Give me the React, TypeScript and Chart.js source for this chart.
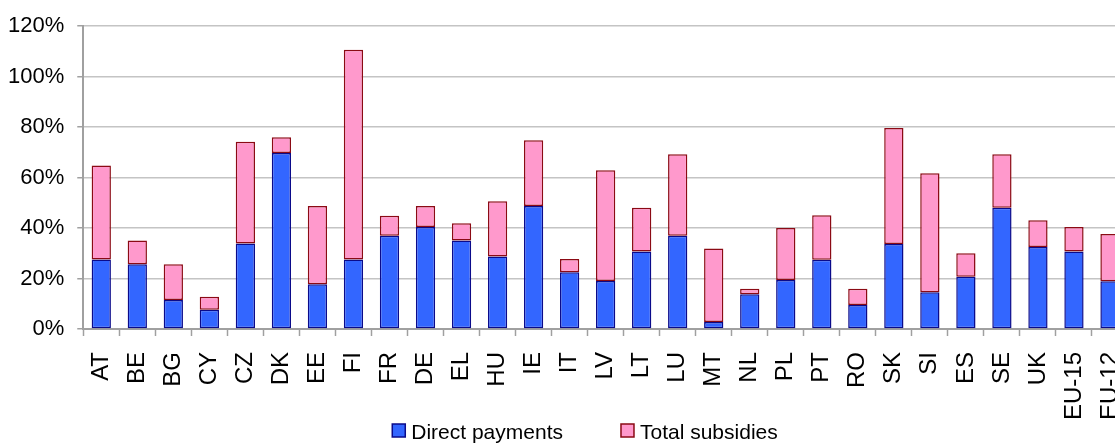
import React, { useEffect, useRef } from 'react';
import { Chart, registerables } from 'chart.js';

Chart.register(...registerables);

const categories = ['AT', 'BE', 'BG', 'CY', 'CZ', 'DK', 'EE', 'FI', 'FR', 'DE', 'EL', 'HU', 'IE', 'IT', 'LV', 'LT', 'LU', 'MT', 'NL', 'PL', 'PT', 'RO', 'SK', 'SI', 'ES', 'SE', 'UK', 'EU-15', 'EU-12'];
const directPayments = [27.5, 25.7, 11.5, 7.6, 33.9, 69.7, 17.7, 27.5, 36.9, 40.4, 35.1, 28.7, 48.7, 22.5, 19.0, 30.7, 36.9, 2.8, 13.8, 19.4, 27.4, 9.5, 33.7, 14.6, 20.7, 48.0, 32.5, 30.7, 18.9];
const totalSubsidies = [64.8, 35.1, 25.7, 12.8, 74.2, 76.0, 48.7, 110.7, 44.9, 48.7, 41.9, 50.6, 74.8, 27.7, 62.9, 48.0, 69.2, 31.9, 15.9, 40.0, 45.1, 15.9, 79.7, 61.7, 30.0, 69.2, 43.1, 40.4, 37.6];
const yMin = 0;
const yMax = 120;
const yStep = 20;

const FONT = '"Liberation Sans", Arial, Helvetica, sans-serif';
const SHIFT = 15;

const legendPlugin = {
  id: 'bottomLegend',
  afterDraw(chart: any) {
    const ctx = chart.ctx;
    const ds = chart.data.datasets;
    ctx.save();
    ctx.font = `21px ${FONT}`;
    const box = 13;
    const gapText = 6;
    const gapItem = 58;
    const widths = ds.map((d: any) => box + gapText + ctx.measureText(d.label).width);
    const total = widths.reduce((a: number, b: number) => a + b, 0) + gapItem * (ds.length - 1);
    let x = 585 + SHIFT - total / 2;
    const cy = 430.5;
    ds.forEach((d: any, i: number) => {
      ctx.fillStyle = d.backgroundColor;
      ctx.fillRect(x, cy - box / 2, box, box);
      ctx.lineWidth = 1.5;
      ctx.strokeStyle = d.borderColor;
      ctx.strokeRect(x, cy - box / 2, box, box);
      ctx.fillStyle = '#000';
      ctx.textBaseline = 'middle';
      ctx.textAlign = 'left';
      ctx.fillText(d.label, x + box + gapText, cy + 2.5);
      x += widths[i] + gapItem;
    });
    ctx.restore();
  },
};

export default function App() {
  const ref = useRef<HTMLCanvasElement>(null);

  useEffect(() => {
    if (!ref.current) return;
    const chart = new Chart(ref.current, {
      type: 'bar',
      data: {
        labels: categories,
        datasets: [
          {
            label: 'Direct payments',
            data: directPayments,
            backgroundColor: '#3366FF',
            borderColor: '#0A0A8A',
            borderWidth: 1.5,
            borderSkipped: false,
            grouped: false,
            order: 1,
            barPercentage: 0.535,
            categoryPercentage: 1,
          },
          {
            label: 'Total subsidies',
            data: totalSubsidies.map((t, i) => [directPayments[i], t]),
            backgroundColor: '#FF99CC',
            borderColor: '#8B0A14',
            borderWidth: 1.5,
            borderSkipped: false,
            grouped: false,
            order: 0,
            barPercentage: 0.535,
            categoryPercentage: 1,
          },
        ] as any,
      },
      options: {
        responsive: false,
        animation: false,
        layout: { padding: { top: 24, left: 10, right: 12, bottom: 12 } },
        plugins: {
          legend: { display: false },
          tooltip: { enabled: false },
        },
        scales: {
          x: {
            grid: {
              offset: true,
              drawOnChartArea: false,
              drawTicks: true,
              tickLength: 7,
              tickColor: '#a0a0a0',
              tickWidth: 1.5,
            },
            border: { display: true, color: '#a0a0a0', width: 2 },
            ticks: {
              autoSkip: false,
              minRotation: 90,
              maxRotation: 90,
              padding: 16,
              color: '#000',
              font: { family: FONT, size: 24 },
            },
          },
          y: {
            min: yMin,
            max: yMax,
            ticks: {
              stepSize: yStep,
              padding: 13,
              color: '#000',
              font: { family: FONT, size: 22 },
              callback: (v: any) => `${v}%`,
            },
            grid: {
              color: '#c4c4c4',
              lineWidth: 1.5,
              drawTicks: true,
              tickLength: 6,
              tickColor: '#a0a0a0',
            },
            border: { display: true, color: '#a0a0a0', width: 2 },
          },
        },
      },
      plugins: [legendPlugin],
    });
    return () => chart.destroy();
  }, []);

  return (
    <div style={{ position: 'fixed', left: 0, top: 0, width: 1115, height: 448, overflow: 'hidden', background: '#fff' }}>
      <canvas ref={ref} width={1170} height={448} style={{ display: 'block', marginLeft: -SHIFT }} />
    </div>
  );
}
